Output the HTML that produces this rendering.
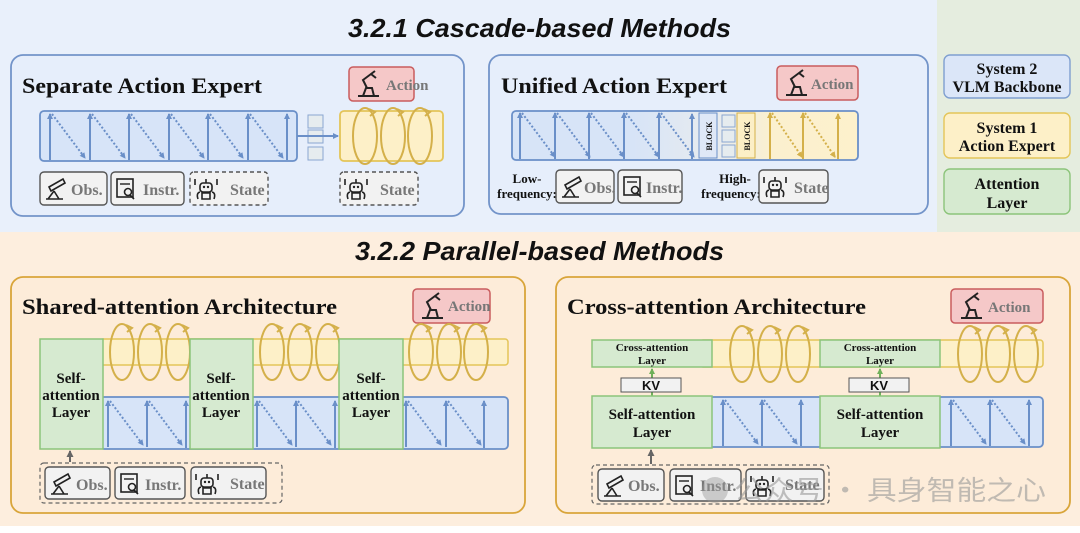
<!DOCTYPE html>
<html><head><meta charset="utf-8"><style>
html,body{margin:0;padding:0;background:#fff}
svg{display:block}
text{font-family:"Liberation Serif","Noto Serif CJK SC",serif;font-weight:bold}
</style></head><body>
<svg width="1080" height="533" viewBox="0 0 1080 533" xmlns="http://www.w3.org/2000/svg">
<defs>
<marker id="ab" markerWidth="6" markerHeight="6" refX="5" refY="3" orient="auto" markerUnits="userSpaceOnUse"><path d="M0,0 L6,3 L0,6 z" fill="#6a8fc8"/></marker>
<marker id="ay" markerWidth="6" markerHeight="6" refX="5" refY="3" orient="auto" markerUnits="userSpaceOnUse"><path d="M0,0 L6,3 L0,6 z" fill="#d4b04a"/></marker>
<marker id="ag" markerWidth="6" markerHeight="6" refX="5" refY="3" orient="auto" markerUnits="userSpaceOnUse"><path d="M0,0 L6,3 L0,6 z" fill="#6fb05a"/></marker>
<marker id="ak" markerWidth="7" markerHeight="7" refX="6" refY="3.5" orient="auto" markerUnits="userSpaceOnUse"><path d="M0,0 L7,3.5 L0,7 z" fill="#666"/></marker>
<g id="cb">
<line x1="0" y1="49" x2="0" y2="3" stroke="#6a8fc8" stroke-width="2" marker-end="url(#ab)"/>
<line x1="2" y1="3" x2="35" y2="47" stroke="#6a8fc8" stroke-width="2" stroke-dasharray="2,2" marker-end="url(#ab)"/>
</g>
<g id="cy">
<line x1="0" y1="49" x2="0" y2="3" stroke="#d4b04a" stroke-width="2" marker-end="url(#ay)"/>
<line x1="2" y1="3" x2="32" y2="47" stroke="#d4b04a" stroke-width="2" stroke-dasharray="2,2" marker-end="url(#ay)"/>
</g>
<g id="lp">
<ellipse cx="0" cy="0" rx="12" ry="28" fill="none" stroke="#d4b04a" stroke-width="2"/>
<path d="M4,-27 l6,3 l-5,4" fill="none" stroke="#d4b04a" stroke-width="2"/>
</g>
<g id="tel"><path d="M3,22 L20,22 M11,14 L5,22 M11,14 L16,22 M6,10 L20,2 L22,6 L8,14 z" fill="none" stroke="#222" stroke-width="1.6"/></g>
<g id="doc"><rect x="2" y="2" width="16" height="18" fill="none" stroke="#222" stroke-width="1.6"/><line x1="5" y1="7" x2="15" y2="7" stroke="#222" stroke-width="1.4"/><circle cx="13" cy="15" r="3.5" fill="none" stroke="#222" stroke-width="1.6"/><line x1="15" y1="18" x2="19" y2="22" stroke="#222" stroke-width="1.6"/></g>
<g id="bot"><rect x="6" y="6" width="12" height="9" rx="3" fill="none" stroke="#222" stroke-width="1.6"/><circle cx="10" cy="10" r="1.2" fill="#222"/><circle cx="14" cy="10" r="1.2" fill="#222"/><path d="M12,6 V2 M4,22 Q2,16 6,15 M20,22 Q22,16 18,15 M8,16 H16 V22 H8 z M1,2 V8 M23,2 V8" fill="none" stroke="#222" stroke-width="1.6"/></g>
<g id="arm"><path d="M3,26 H24 M8,26 L11,18 L17,18 L19,26 M12,18 L8,10 L16,4 M16,4 L20,1 M16,4 L21,8" fill="none" stroke="#222" stroke-width="2"/></g>
<linearGradient id="gu" x1="0" x2="1" y1="0" y2="0"><stop offset="0" stop-color="#d7e4f7"/><stop offset="0.35" stop-color="#d7e4f7"/><stop offset="0.6" stop-color="#e9ecee"/><stop offset="0.75" stop-color="#fbf0cf"/><stop offset="1" stop-color="#fdf1cc"/></linearGradient>
</defs>

<rect x="0" y="0" width="937" height="232" fill="#e9f0fb"/>
<rect x="937" y="0" width="143" height="232" fill="#e5eddf"/>
<rect x="0" y="232" width="1080" height="294" fill="#fdeede"/>

<text x="348" y="37" textLength="383" lengthAdjust="spacingAndGlyphs" font-size="26" font-style="italic" style="font-family:'Liberation Sans',sans-serif" fill="#111">3.2.1 Cascade-based Methods</text>
<text x="355" y="260" textLength="369" lengthAdjust="spacingAndGlyphs" font-size="26" font-style="italic" style="font-family:'Liberation Sans',sans-serif" fill="#111">3.2.2 Parallel-based Methods</text>

<!-- Panel 1 -->
<rect x="11" y="55" width="453" height="161" rx="12" fill="#e6eefb" stroke="#7394c9" stroke-width="1.8"/>
<text x="22" y="93" font-size="22" textLength="240" lengthAdjust="spacingAndGlyphs" fill="#111">Separate Action Expert</text>
<rect x="349" y="67" width="65" height="34" rx="4" fill="#f5c8c8" stroke="#c95c5e" stroke-width="1.5"/>
<use href="#arm" x="355" y="70"/>
<text x="386" y="90" font-size="15" fill="#777">Action</text>
<rect x="40" y="111" width="257" height="50" rx="4" fill="#d7e4f8" stroke="#6a8fc8" stroke-width="1.8"/>
<use href="#cb" x="50" y="111"/><use href="#cb" x="90" y="111"/><use href="#cb" x="129" y="111"/><use href="#cb" x="169" y="111"/><use href="#cb" x="208" y="111"/><use href="#cb" x="248" y="111"/>
<line x1="287" y1="160" x2="287" y2="114" stroke="#6a8fc8" stroke-width="2" marker-end="url(#ab)"/>
<rect x="308" y="115" width="15" height="13" fill="#e6ecef" stroke="#8aa6d0"/>
<rect x="308" y="130" width="15" height="13" fill="#e6ecef" stroke="#8aa6d0"/>
<rect x="308" y="147" width="15" height="13" fill="#e6ecef" stroke="#8aa6d0"/>
<line x1="297" y1="136" x2="338" y2="136" stroke="#6a8fc8" stroke-width="2" marker-end="url(#ab)"/>
<rect x="340" y="111" width="103" height="50" rx="4" fill="#fdf0c8" stroke="#e4c558" stroke-width="1.8"/>
<use href="#lp" x="365" y="136"/><use href="#lp" x="393" y="136"/><use href="#lp" x="420" y="136"/>
<rect x="40" y="172" width="67" height="33" rx="4" fill="#f2f2f2" stroke="#555" stroke-width="1.4"/>
<use href="#tel" x="43" y="177"/><text x="71" y="195" font-size="16" fill="#777">Obs.</text>
<rect x="111" y="172" width="73" height="33" rx="4" fill="#f2f2f2" stroke="#555" stroke-width="1.4"/>
<use href="#doc" x="115" y="177"/><text x="143" y="195" font-size="16" fill="#777">Instr.</text>
<rect x="190" y="172" width="78" height="33" rx="4" fill="#f2f2f2" stroke="#555" stroke-width="1.4" stroke-dasharray="4,3"/>
<use href="#bot" x="194" y="177"/><text x="230" y="195" font-size="16" fill="#777">State</text>
<rect x="340" y="172" width="78" height="33" rx="4" fill="#f2f2f2" stroke="#555" stroke-width="1.4" stroke-dasharray="4,3"/>
<use href="#bot" x="344" y="177"/><text x="380" y="195" font-size="16" fill="#777">State</text>

<!-- Panel 2 -->
<rect x="489" y="55" width="439" height="159" rx="12" fill="#e6eefb" stroke="#7394c9" stroke-width="1.8"/>
<text x="501" y="93" font-size="22" textLength="226" lengthAdjust="spacingAndGlyphs" fill="#111">Unified Action Expert</text>
<rect x="777" y="66" width="81" height="34" rx="4" fill="#f5c8c8" stroke="#c95c5e" stroke-width="1.5"/>
<use href="#arm" x="783" y="69"/><text x="811" y="89" font-size="15" fill="#777">Action</text>
<rect x="512" y="111" width="346" height="49" rx="4" fill="url(#gu)" stroke="#6a8fc8" stroke-width="1.8"/>
<use href="#cb" x="520" y="110"/><use href="#cb" x="555" y="110"/><use href="#cb" x="589" y="110"/><use href="#cb" x="624" y="110"/><use href="#cb" x="659" y="110"/>
<line x1="692" y1="159" x2="692" y2="114" stroke="#6a8fc8" stroke-width="2" marker-end="url(#ab)"/>
<rect x="699" y="113" width="18" height="45" fill="#dfe8f7" stroke="#6a8fc8"/>
<text transform="translate(712,136) rotate(-90)" text-anchor="middle" font-size="8" fill="#111">BLOCK</text>
<rect x="722" y="115" width="13" height="12" fill="#e6ecef" stroke="#8aa6d0"/>
<rect x="722" y="130" width="13" height="12" fill="#e6ecef" stroke="#8aa6d0"/>
<rect x="722" y="145" width="13" height="12" fill="#e6ecef" stroke="#8aa6d0"/>
<rect x="737" y="113" width="18" height="45" fill="#fcefc6" stroke="#d4b04a"/>
<text transform="translate(750,136) rotate(-90)" text-anchor="middle" font-size="8" fill="#111">BLOCK</text>
<use href="#cy" x="770" y="110"/><use href="#cy" x="803" y="110"/>
<line x1="838" y1="159" x2="838" y2="114" stroke="#d4b04a" stroke-width="2" marker-end="url(#ay)"/>
<text x="527" y="183" text-anchor="middle" font-size="13" fill="#111">Low-</text>
<text x="527" y="198" text-anchor="middle" font-size="13" fill="#111">frequency:</text>
<rect x="556" y="170" width="58" height="33" rx="4" fill="#f2f2f2" stroke="#555" stroke-width="1.4"/>
<use href="#tel" x="559" y="175"/><text x="584" y="193" font-size="16" fill="#777">Obs.</text>
<rect x="618" y="170" width="64" height="33" rx="4" fill="#f2f2f2" stroke="#555" stroke-width="1.4"/>
<use href="#doc" x="622" y="175"/><text x="646" y="193" font-size="16" fill="#777">Instr.</text>
<text x="735" y="183" text-anchor="middle" font-size="13" fill="#111">High-</text>
<text x="731" y="198" text-anchor="middle" font-size="13" fill="#111">frequency:</text>
<rect x="759" y="170" width="69" height="33" rx="4" fill="#f2f2f2" stroke="#555" stroke-width="1.4"/>
<use href="#bot" x="763" y="175"/><text x="794" y="193" font-size="16" fill="#777">State</text>

<!-- Legend -->
<rect x="944" y="55" width="126" height="43" rx="6" fill="#dbe6f8" stroke="#7f9fd0" stroke-width="1.4"/>
<text x="1007" y="74" text-anchor="middle" font-size="16" fill="#111">System 2</text>
<text x="1007" y="92" text-anchor="middle" font-size="16" fill="#111">VLM Backbone</text>
<rect x="944" y="113" width="126" height="45" rx="6" fill="#fdf0c8" stroke="#e4c558" stroke-width="1.4"/>
<text x="1007" y="133" text-anchor="middle" font-size="16" fill="#111">System 1</text>
<text x="1007" y="151" text-anchor="middle" font-size="16" fill="#111">Action Expert</text>
<rect x="944" y="169" width="126" height="45" rx="6" fill="#d6ead0" stroke="#8cc47a" stroke-width="1.4"/>
<text x="1007" y="189" text-anchor="middle" font-size="16" fill="#111">Attention</text>
<text x="1007" y="208" text-anchor="middle" font-size="16" fill="#111">Layer</text>

<!-- Panel 3 -->
<rect x="11" y="277" width="514" height="236" rx="12" fill="#fdecd9" stroke="#d9a53a" stroke-width="1.8"/>
<text x="22" y="314" font-size="22" textLength="315" lengthAdjust="spacingAndGlyphs" fill="#111">Shared-attention Architecture</text>
<rect x="413" y="289" width="77" height="34" rx="4" fill="#f5c8c8" stroke="#c95c5e" stroke-width="1.5"/>
<use href="#arm" x="419" y="292"/><text x="448" y="311" font-size="15" fill="#777">Action</text>
<rect x="100" y="339" width="408" height="26" rx="3" fill="#fdf0c8" stroke="#e4c558" stroke-width="1.5"/>
<rect x="100" y="397" width="408" height="52" rx="4" fill="#d7e4f8" stroke="#6a8fc8" stroke-width="1.8"/>
<use href="#cb" x="108" y="398"/><use href="#cb" x="147" y="398"/><line x1="186" y1="448" x2="186" y2="401" stroke="#6a8fc8" stroke-width="2" marker-end="url(#ab)"/>
<use href="#cb" x="257" y="398"/><use href="#cb" x="296" y="398"/><line x1="335" y1="448" x2="335" y2="401" stroke="#6a8fc8" stroke-width="2" marker-end="url(#ab)"/>
<use href="#cb" x="406" y="398"/><use href="#cb" x="446" y="398"/><line x1="484" y1="448" x2="484" y2="401" stroke="#6a8fc8" stroke-width="2" marker-end="url(#ab)"/>
<use href="#lp" x="122" y="352"/><use href="#lp" x="150" y="352"/><use href="#lp" x="178" y="352"/>
<use href="#lp" x="272" y="352"/><use href="#lp" x="300" y="352"/><use href="#lp" x="328" y="352"/>
<use href="#lp" x="421" y="352"/><use href="#lp" x="449" y="352"/><use href="#lp" x="476" y="352"/>
<rect x="40" y="339" width="63" height="110" fill="#d6ead0" stroke="#8cc47a" stroke-width="1.5"/>
<rect x="190" y="339" width="63" height="110" fill="#d6ead0" stroke="#8cc47a" stroke-width="1.5"/>
<rect x="339" y="339" width="64" height="110" fill="#d6ead0" stroke="#8cc47a" stroke-width="1.5"/>
<g font-size="15" fill="#111" text-anchor="middle">
<text x="71" y="383">Self-</text><text x="71" y="400">attention</text><text x="71" y="417">Layer</text>
<text x="221" y="383">Self-</text><text x="221" y="400">attention</text><text x="221" y="417">Layer</text>
<text x="371" y="383">Self-</text><text x="371" y="400">attention</text><text x="371" y="417">Layer</text>
</g>
<line x1="70" y1="462" x2="70" y2="451" stroke="#666" stroke-width="2" marker-end="url(#ak)"/>
<rect x="40" y="463" width="242" height="40" rx="4" fill="none" stroke="#666" stroke-width="1.2" stroke-dasharray="4,3"/>
<rect x="45" y="467" width="65" height="32" rx="4" fill="#f2f2f2" stroke="#555" stroke-width="1.4"/>
<use href="#tel" x="48" y="472"/><text x="76" y="490" font-size="16" fill="#777">Obs.</text>
<rect x="115" y="467" width="70" height="32" rx="4" fill="#f2f2f2" stroke="#555" stroke-width="1.4"/>
<use href="#doc" x="119" y="472"/><text x="145" y="490" font-size="16" fill="#777">Instr.</text>
<rect x="191" y="467" width="75" height="32" rx="4" fill="#f2f2f2" stroke="#555" stroke-width="1.4"/>
<use href="#bot" x="195" y="472"/><text x="230" y="489" font-size="16" fill="#777">State</text>

<!-- Panel 4 -->
<rect x="556" y="277" width="514" height="236" rx="12" fill="#fdecd9" stroke="#d9a53a" stroke-width="1.8"/>
<text x="567" y="314" font-size="22" textLength="299" lengthAdjust="spacingAndGlyphs" fill="#111">Cross-attention Architecture</text>
<rect x="951" y="289" width="92" height="34" rx="4" fill="#f5c8c8" stroke="#c95c5e" stroke-width="1.5"/>
<use href="#arm" x="958" y="292"/><text x="988" y="312" font-size="15" fill="#777">Action</text>
<rect x="700" y="340" width="343" height="27" rx="3" fill="#fdf0c8" stroke="#e4c558" stroke-width="1.5"/>
<rect x="700" y="397" width="343" height="50" rx="4" fill="#d7e4f8" stroke="#6a8fc8" stroke-width="1.8"/>
<use href="#cb" x="723" y="397"/><use href="#cb" x="762" y="397"/><line x1="801" y1="446" x2="801" y2="400" stroke="#6a8fc8" stroke-width="2" marker-end="url(#ab)"/>
<use href="#cb" x="951" y="397"/><use href="#cb" x="990" y="397"/><line x1="1029" y1="446" x2="1029" y2="400" stroke="#6a8fc8" stroke-width="2" marker-end="url(#ab)"/>
<use href="#lp" x="742" y="354"/><use href="#lp" x="770" y="354"/><use href="#lp" x="798" y="354"/>
<use href="#lp" x="970" y="354"/><use href="#lp" x="998" y="354"/><use href="#lp" x="1026" y="354"/>
<rect x="592" y="340" width="120" height="27" fill="#d6ead0" stroke="#8cc47a" stroke-width="1.5"/>
<rect x="820" y="340" width="120" height="27" fill="#d6ead0" stroke="#8cc47a" stroke-width="1.5"/>
<g font-size="11" fill="#111" text-anchor="middle">
<text x="652" y="351">Cross-attention</text><text x="652" y="364">Layer</text>
<text x="880" y="351">Cross-attention</text><text x="880" y="364">Layer</text>
</g>
<line x1="652" y1="378" x2="652" y2="369" stroke="#6fb05a" stroke-width="2" marker-end="url(#ag)"/>
<line x1="880" y1="378" x2="880" y2="369" stroke="#6fb05a" stroke-width="2" marker-end="url(#ag)"/>
<line x1="652" y1="396" x2="652" y2="392" stroke="#6fb05a" stroke-width="2"/>
<line x1="880" y1="396" x2="880" y2="392" stroke="#6fb05a" stroke-width="2"/>
<rect x="621" y="378" width="60" height="14" fill="#f2f2f2" stroke="#555"/>
<rect x="849" y="378" width="60" height="14" fill="#f2f2f2" stroke="#555"/>
<text x="651" y="390" text-anchor="middle" font-size="13" style="font-family:'Liberation Sans',sans-serif" fill="#111">KV</text>
<text x="879" y="390" text-anchor="middle" font-size="13" style="font-family:'Liberation Sans',sans-serif" fill="#111">KV</text>
<rect x="592" y="396" width="120" height="52" fill="#d6ead0" stroke="#8cc47a" stroke-width="1.5"/>
<rect x="820" y="396" width="120" height="52" fill="#d6ead0" stroke="#8cc47a" stroke-width="1.5"/>
<g font-size="15" fill="#111" text-anchor="middle">
<text x="652" y="419">Self-attention</text><text x="652" y="437">Layer</text>
<text x="880" y="419">Self-attention</text><text x="880" y="437">Layer</text>
</g>
<line x1="651" y1="464" x2="651" y2="450" stroke="#666" stroke-width="2" marker-end="url(#ak)"/>
<rect x="592" y="465" width="237" height="39" rx="4" fill="none" stroke="#666" stroke-width="1.2" stroke-dasharray="4,3"/>
<rect x="598" y="469" width="66" height="32" rx="4" fill="#f2f2f2" stroke="#555" stroke-width="1.4"/>
<use href="#tel" x="601" y="474"/><text x="628" y="491" font-size="16" fill="#777">Obs.</text>
<rect x="670" y="469" width="71" height="32" rx="4" fill="#f2f2f2" stroke="#555" stroke-width="1.4"/>
<use href="#doc" x="674" y="474"/><text x="700" y="491" font-size="16" fill="#777">Instr.</text>
<rect x="746" y="469" width="78" height="32" rx="4" fill="#f2f2f2" stroke="#555" stroke-width="1.4"/>
<use href="#bot" x="750" y="474"/><text x="785" y="490" font-size="16" fill="#777">State</text>
<circle cx="715" cy="490" r="13" fill="#999" opacity="0.45"/>
<text x="734" y="500" font-size="27" textLength="312" lengthAdjust="spacingAndGlyphs" style="font-family:'Noto Sans CJK SC',sans-serif;font-weight:normal" fill="#999" opacity="0.6">公众号 · 具身智能之心</text>
</svg>
</body></html>
